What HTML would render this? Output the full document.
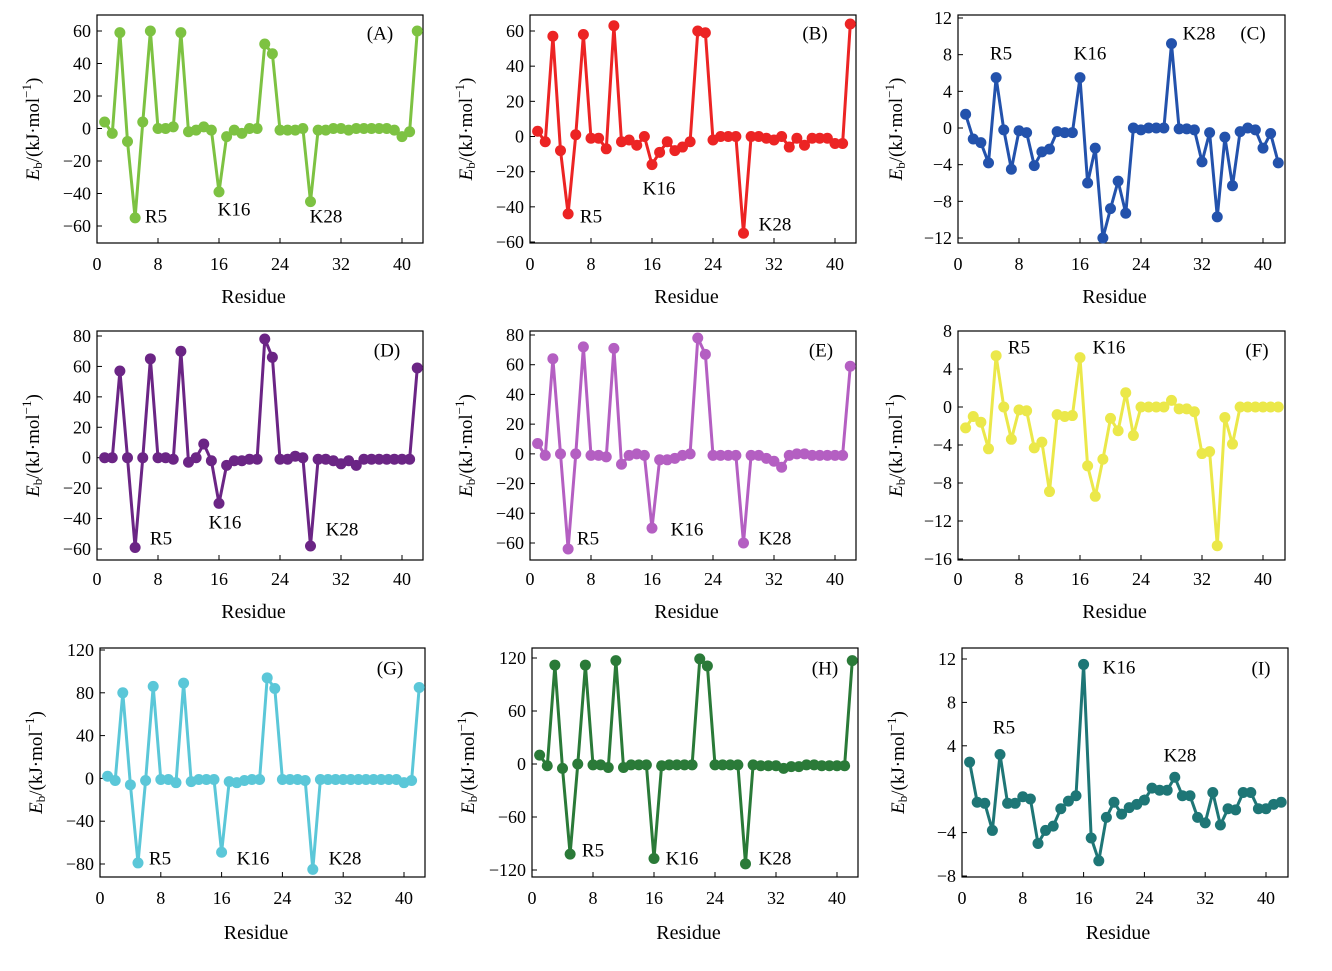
<!DOCTYPE html>
<html><head><meta charset="utf-8">
<style>
html,body{margin:0;padding:0;background:#fff;}
svg{display:block;font-family:"Liberation Serif",serif;}
</style></head>
<body>
<svg id="chart" width="1332" height="971" viewBox="0 0 1332 971" xmlns="http://www.w3.org/2000/svg"></svg>
<script>
const residues = Array.from({length:42},(_,i)=>i+1);
const xTicks = [0,8,16,24,32,40];
const dataA = [4,-3,59,-8,-55,4,60,0,0,1,59,-2,-1,1,-1,-39,-5,-1,-3,0,0,52,46,-1,-1,-1,0,-45,-1,-1,0,0,-1,0,0,0,0,0,-1,-5,-2,60];
const dataB = [3,-3,57,-8,-44,1,58,-1,-1,-7,63,-3,-2,-5,0,-16,-9,-3,-8,-6,-3,60,59,-2,0,0,0,-55,0,0,-1,-2,0,-6,-1,-5,-1,-1,-1,-4,-4,64];
const dataC = [1.5,-1.2,-1.6,-3.8,5.5,-0.2,-4.5,-0.3,-0.5,-4.1,-2.6,-2.3,-0.4,-0.5,-0.5,5.5,-6,-2.2,-12,-8.8,-5.8,-9.3,0,-0.2,0,0,0,9.2,-0.1,-0.1,-0.2,-3.7,-0.5,-9.7,-1,-6.3,-0.4,0,-0.2,-2.2,-0.6,-3.8];
const dataD = [0,0,57,0,-59,0,65,0,0,-1,70,-3,0,9,-2,-30,-5,-2,-2,-1,-1,78,66,-1,-1,1,0,-58,-1,-1,-2,-4,-2,-5,-1,-1,-1,-1,-1,-1,-1,59];
const dataE = [7,-1,64,0,-64,0,72,-1,-1,-2,71,-7,-1,0,-1,-50,-4,-4,-3,-1,0,78,67,-1,-1,-1,-1,-60,-1,-1,-3,-5,-9,-1,0,0,-1,-1,-1,-1,-1,59];
const dataF = [-2.2,-1,-1.6,-4.4,5.4,0,-3.4,-0.3,-0.4,-4.3,-3.7,-8.9,-0.8,-1,-0.9,5.2,-6.2,-9.4,-5.5,-1.2,-2.5,1.5,-3,0,0,0,0,0.7,-0.2,-0.2,-0.5,-4.9,-4.7,-14.6,-1.1,-3.9,0,0,0,0,0,0];
const dataG = [2,-2,80,-6,-79,-2,86,-1,-1,-4,89,-3,-1,-1,-1,-69,-3,-4,-2,-1,-1,94,84,-1,-1,-1,-2,-85,-1,-1,-1,-1,-1,-1,-1,-1,-1,-1,-1,-4,-2,85];
const dataH = [10,-2,112,-5,-102,0,112,-1,-1,-4,117,-4,-1,-1,-1,-107,-2,-1,-1,-1,-1,119,111,-1,-1,-1,-1,-113,-1,-2,-2,-2,-5,-3,-3,-1,-1,-2,-2,-2,-2,117];
const dataI = [2.5,-1.2,-1.3,-3.8,3.2,-1.3,-1.3,-0.7,-0.9,-5,-3.8,-3.4,-1.8,-1.1,-0.6,11.5,-4.5,-6.6,-2.6,-1.2,-2.3,-1.7,-1.4,-1,0.1,-0.1,-0.1,1.1,-0.6,-0.6,-2.6,-3.1,-0.3,-3.3,-1.8,-1.9,-0.3,-0.3,-1.8,-1.8,-1.4,-1.2];
const ticksA = [60,40,20,0,-20,-40,-60];
const ticksC = [12,8,4,0,-4,-8,-12];
const ticksD = [80,60,40,20,0,-20,-40,-60];
const ticksF = [8,4,0,-4,-8,-12,-16];
const ticksG = [120,80,40,0,-40,-80];
const ticksH = [120,60,0,-60,-120];
const ticksI = [12,8,4,-4,-8];

const panels = [
 {id:'A',data:dataA,ticks:ticksA,color:'#7dc242',box:[97,15,423,243],x0:97,x40:402,yTop:[60,31],yBot:[-60,226],xlab:264,axlab:296,ylx:35,
  lab:[['(A)',380,35],['R5',156,218],['K16',234,211],['K28',326,218]]},
 {id:'B',data:dataB,ticks:ticksA,color:'#ec2424',box:[530,15,856,243],x0:530,x40:835,yTop:[60,31],yBot:[-60,242],xlab:264,axlab:296,ylx:468,
  lab:[['(B)',815,35],['R5',591,218],['K16',659,190],['K28',775,226]]},
 {id:'C',data:dataC,ticks:ticksC,color:'#2352ac',box:[958,15,1285,243],x0:958,x40:1263,yTop:[12,18],yBot:[-12,238],xlab:264,axlab:296,ylx:898,
  lab:[['(C)',1253,35],['R5',1001,55],['K16',1090,55],['K28',1199,35]]},
 {id:'D',data:dataD,ticks:ticksD,color:'#6b2585',box:[97,331,423,560],x0:97,x40:402,yTop:[80,336],yBot:[-60,549],xlab:579,axlab:611,ylx:35,
  lab:[['(D)',387,352],['R5',161,540],['K16',225,524],['K28',342,531]]},
 {id:'E',data:dataE,ticks:ticksD,color:'#b45fc2',box:[530,331,856,560],x0:530,x40:835,yTop:[80,335],yBot:[-60,543],xlab:579,axlab:611,ylx:468,
  lab:[['(E)',821,352],['R5',588,540],['K16',687,531],['K28',775,540]]},
 {id:'F',data:dataF,ticks:ticksF,color:'#ebe84a',box:[958,331,1285,560],x0:958,x40:1263,yTop:[8,331],yBot:[-16,559],xlab:579,axlab:611,ylx:898,
  lab:[['(F)',1257,352],['R5',1019,349],['K16',1109,349]]},
 {id:'G',data:dataG,ticks:ticksG,color:'#5bc7d8',box:[100,648,425,877],x0:100,x40:404,yTop:[120,650],yBot:[-80,864],xlab:898,axlab:932,ylx:38,
  lab:[['(G)',390,670],['R5',160,860],['K16',253,860],['K28',345,860]]},
 {id:'H',data:dataH,ticks:ticksH,color:'#2a7a38',box:[532,648,858,877],x0:532,x40:837,yTop:[120,658],yBot:[-120,870],xlab:898,axlab:932,ylx:470,
  lab:[['(H)',825,670],['R5',593,852],['K16',682,860],['K28',775,860]]},
 {id:'I',data:dataI,ticks:ticksI,color:'#1e7676',box:[962,648,1288,877],x0:962,x40:1266,yTop:[12,659],yBot:[-8,876],xlab:898,axlab:932,ylx:900,
  lab:[['(I)',1261,670],['R5',1004,729],['K16',1119,669],['K28',1180,757]]},
];
const NS='http://www.w3.org/2000/svg';
const svg=document.getElementById('chart');
function mk(tag,attrs,parent){const e=document.createElementNS(NS,tag);for(const k in attrs)e.setAttribute(k,attrs[k]);(parent||svg).appendChild(e);return e;}
panels.forEach(p=>{
  const g=mk('g',{});
  
  
  const xs=v=>p.x0+(p.x40-p.x0)*v/40;
  const ys=v=>p.yTop[1]+(p.yBot[1]-p.yTop[1])*(p.yTop[0]-v)/(p.yTop[0]-p.yBot[0]);
  const [bx0,by0,bx1,by1]=p.box;
  const frame=mk('rect',{x:bx0,y:by0,width:bx1-bx0,height:by1-by0,fill:'none',stroke:'#000','stroke-width':1.2},g);
  
  
  xTicks.forEach(t=>{
    const x=xs(t);
    mk('line',{x1:x,x2:x,y1:by1,y2:by1-5,stroke:'#000','stroke-width':1},g);
    const tx=mk('text',{x:x,y:p.xlab+6,'text-anchor':'middle','font-size':18},g);
    tx.textContent=t;
    
    
  });
  p.ticks.forEach(t=>{
    const y=ys(t);
    mk('line',{x1:bx0,x2:bx0+5,y1:y,y2:y,stroke:'#000','stroke-width':1},g);
    const tx=mk('text',{x:bx0-6,y:y+6,'text-anchor':'end','font-size':18},g);
    tx.textContent=(t<0?'\u2212'+(-t):t);
    
    
  });
  const xl=mk('text',{x:(p.x0+p.x40)/2+4,y:p.axlab+7,'text-anchor':'middle','font-size':20},g);
  xl.textContent='Residue';
  
  
  const cy=(by0+by1)/2;
  const yl=mk('text',{x:p.ylx,y:cy,'text-anchor':'middle','font-size':19,transform:`rotate(-90 ${p.ylx} ${cy})`,'dominant-baseline':'middle'},g);
  yl.innerHTML='<tspan font-style="italic">E</tspan><tspan font-size="13" dy="4">b</tspan><tspan dy="-4">/(kJ·mol</tspan><tspan font-size="13" dy="-7">−1</tspan><tspan dy="7">)</tspan>';
  
  
  const pts=residues.map((r,i)=>xs(r).toFixed(1)+','+ys(p.data[i]).toFixed(1)).join(' ');
  const line=mk('polyline',{points:pts,fill:'none',stroke:p.color,'stroke-width':3,'stroke-linejoin':'round'},g);
  
  
  residues.forEach((r,i)=>{
    const c=mk('circle',{cx:xs(r),cy:ys(p.data[i]),r:5.5,fill:p.color},g);
    
    
  });
  p.lab.forEach(l=>{
    const t=mk('text',{x:l[1],y:l[2],'text-anchor':'middle','font-size':19,'dominant-baseline':'middle'},g);
    t.textContent=l[0];
    
    
  });
});
</script>
</body></html>
